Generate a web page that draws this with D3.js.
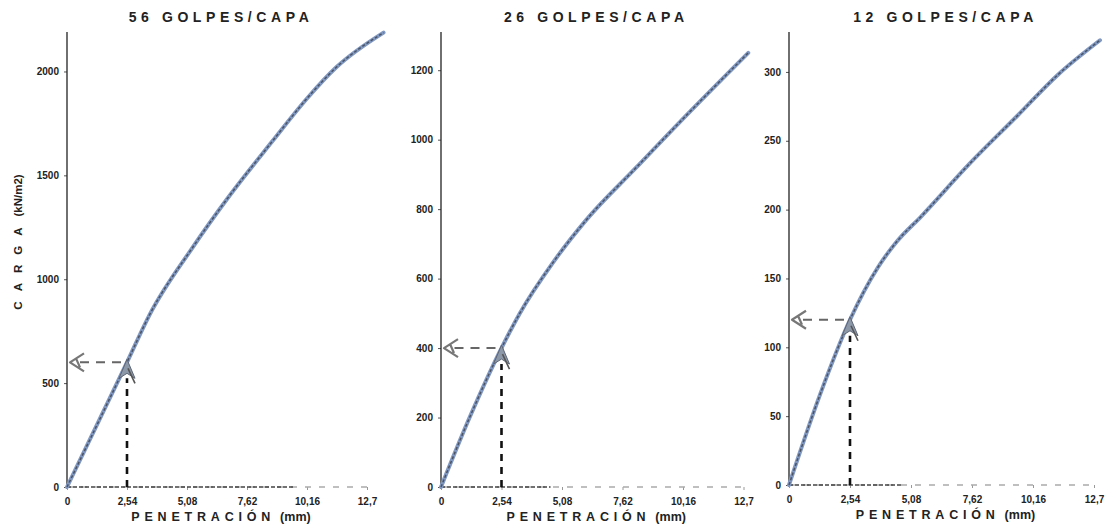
<!DOCTYPE html>
<html>
<head>
<meta charset="utf-8">
<script src="https://cdn.jsdelivr.net/npm/d3@7"></script>
<style>
  body { margin: 0; background: #fff; }
  svg { display: block; font-family: "Liberation Sans", Arial, sans-serif; }
</style>
</head>
<body>
<div id="chart"></div>
<script>
// Data

let titles = [`56 GOLPES/CAPA`, `26 GOLPES/CAPA`, `12 GOLPES/CAPA`]

let xTicks = [0, 2.54, 5.08, 7.62, 10.16, 12.7]
let xTickLabels = [`0`, `2,54`, `5,08`, `7,62`, `10,16`, `12,7`]

let pen56 = [0, 2.54, 3.5, 5.3, 6.8, 8.7, 10.16, 11.4, 13.4]
let carga56 = [0, 600, 830, 1150, 1390, 1665, 1870, 2020, 2187]

let pen26 = [0, 1.2, 2.54, 3.3, 4.7, 6.1, 8.2, 10.3, 12.9]
let carga26 = [0, 200, 400, 499, 646, 769, 920, 1070, 1250]

let pen12 = [0, 1.3, 2.54, 3.7, 4.5, 5.5, 7.5, 9.5, 11.2, 12.95]
let carga12 = [0, 66, 120, 158, 177, 195, 233, 268, 298, 323]

let yTicks56 = [0, 500, 1000, 1500, 2000]
let yTicks26 = [0, 200, 400, 600, 800, 1000, 1200]
let yTicks12 = [0, 50, 100, 150, 200, 250, 300]

let refPen = 2.54
let refCarga = [600, 400, 120]

// Layout per panel

let panels = [
  { title: titles[0], pen: pen56, carga: carga56, yTicks: yTicks56, yMax: 2190, ref: refCarga[0], x0: 67, y0: 487, step: 60, dark: 9.6 },
  { title: titles[1], pen: pen26, carga: carga26, yTicks: yTicks26, yMax: 1310, ref: refCarga[1], x0: 441, y0: 487, step: 60.5, dark: 4.6 },
  { title: titles[2], pen: pen12, carga: carga12, yTicks: yTicks12, yMax: 329, ref: refCarga[2], x0: 789, y0: 485, step: 61, dark: 4.7 },
]

let width = 1112
let height = 528
let plotTop = 32

let svg = d3.select(`#chart`).append(`svg`)
  .attr(`width`, width)
  .attr(`height`, height)

let ink = `#222`
let curveBlue = `#8198c0`
let curveDash = `#4a5366`
let font = `"Liberation Sans", Arial, sans-serif`

panels.forEach(p => {
  let x = d3.scaleLinear().domain([0, 12.7]).range([p.x0, p.x0 + p.step * 5])
  let y = d3.scaleLinear().domain([0, p.yMax]).range([p.y0, plotTop])

  let g = svg.append(`g`)

  // Title
  g.append(`text`)
    .attr(`x`, x(6.35) + 4)
    .attr(`y`, 22)
    .attr(`text-anchor`, `middle`)
    .attr(`font-size`, 14)
    .attr(`font-weight`, `bold`)
    .attr(`letter-spacing`, 4.6)
    .attr(`fill`, ink)
    .text(p.title)

  // Y axis
  let yAxis = d3.axisLeft(y).tickValues(p.yTicks).tickFormat(d3.format(`d`)).tickSize(3).tickPadding(5)
  let ya = g.append(`g`).attr(`transform`, `translate(${p.x0},0)`).call(yAxis)
  ya.select(`.domain`).remove()
  ya.selectAll(`text`).attr(`font-size`, 10).attr(`font-weight`, `bold`).attr(`fill`, ink).attr(`font-family`, font)
  ya.selectAll(`line`).attr(`stroke`, `#555`)
  g.append(`line`)
    .attr(`x1`, p.x0).attr(`x2`, p.x0)
    .attr(`y1`, p.y0 + 2).attr(`y2`, plotTop)
    .attr(`stroke`, ink).attr(`stroke-width`, 1.3)

  // X axis: labels only, baseline is a dotted line
  let xAxis = d3.axisBottom(x).tickValues(xTicks).tickFormat((d, i) => xTickLabels[i]).tickSize(3).tickPadding(8)
  let xa = g.append(`g`).attr(`transform`, `translate(0,${p.y0})`).call(xAxis)
  xa.select(`.domain`).remove()
  xa.selectAll(`text`).attr(`font-size`, 10).attr(`font-weight`, `bold`).attr(`fill`, ink).attr(`font-family`, font)
  xa.selectAll(`line`).attr(`stroke`, `#999`)

  g.append(`line`)
    .attr(`x1`, x(0)).attr(`x2`, x(12.7))
    .attr(`y1`, p.y0).attr(`y2`, p.y0)
    .attr(`stroke`, `#aaa`).attr(`stroke-width`, 1.3)
    .attr(`stroke-dasharray`, `6,8`)
  g.append(`line`)
    .attr(`x1`, x(0)).attr(`x2`, x(p.dark))
    .attr(`y1`, p.y0).attr(`y2`, p.y0)
    .attr(`stroke`, `#444`).attr(`stroke-width`, 1.6)
    .attr(`stroke-dasharray`, `4,2`)

  // X axis title
  let xt = g.append(`text`)
    .attr(`x`, x(6.35) + 4)
    .attr(`y`, p.y0 + 34)
    .attr(`text-anchor`, `middle`)
    .attr(`font-size`, 12.5)
    .attr(`font-weight`, `bold`)
    .attr(`fill`, ink)
  xt.append(`tspan`).attr(`letter-spacing`, 4.8).text(`PENETRACIÓN`)
  xt.append(`tspan`).attr(`dx`, 5).text(`(mm)`)

  // Curve
  let pts = p.pen.map((d, i) => [d, p.carga[i]])
  let line = d3.line().x(d => x(d[0])).y(d => y(d[1])).curve(d3.curveMonotoneX)
  g.append(`path`).datum(pts)
    .attr(`d`, line)
    .attr(`fill`, `none`)
    .attr(`stroke`, curveBlue)
    .attr(`stroke-width`, 4)
    .attr(`stroke-linecap`, `round`)
  g.append(`path`).datum(pts)
    .attr(`d`, line)
    .attr(`fill`, `none`)
    .attr(`stroke`, curveDash)
    .attr(`stroke-width`, 1.5)
    .attr(`stroke-dasharray`, `3,2`)

  // Reference guides at 2.54 mm
  let rx = x(refPen)
  let ry = y(p.ref)

  g.append(`line`)
    .attr(`x1`, rx).attr(`x2`, rx)
    .attr(`y1`, p.y0).attr(`y2`, ry + 16)
    .attr(`stroke`, `#111`).attr(`stroke-width`, 2.6)
    .attr(`stroke-dasharray`, `7,6`)

  g.append(`line`)
    .attr(`x1`, rx - 6).attr(`x2`, p.x0 + 8)
    .attr(`y1`, ry).attr(`y2`, ry)
    .attr(`stroke`, `#666`).attr(`stroke-width`, 2)
    .attr(`stroke-dasharray`, `9,7`)

  // Arrow at the y axis
  g.append(`path`)
    .attr(`d`, `M${p.x0 + 17},${ry - 9} L${p.x0 + 3},${ry} L${p.x0 + 17},${ry + 9} M${p.x0 + 9},${ry - 4} L${p.x0 + 13},${ry + 5}`)
    .attr(`fill`, `none`)
    .attr(`stroke`, `#777`)
    .attr(`stroke-width`, 2.2)
    .attr(`stroke-linejoin`, `round`)

  // Arrow head on the curve
  g.append(`path`)
    .attr(`d`, `M${rx},${ry - 3} L${rx - 8},${ry + 16} L${rx},${ry + 11} L${rx + 8},${ry + 16} Z`)
    .attr(`fill`, `#8c97a8`)
    .attr(`stroke`, `#5d6676`)
    .attr(`stroke-width`, 1)
  g.append(`path`)
    .attr(`d`, `M${rx + 1},${ry + 6} L${rx + 8},${ry + 21}`)
    .attr(`stroke`, `#555`)
    .attr(`stroke-width`, 1.6)
})

// Y axis title, first panel only
let yt = svg.append(`text`)
  .attr(`transform`, `translate(22,242) rotate(-90)`)
  .attr(`text-anchor`, `middle`)
  .attr(`font-size`, 11.5)
  .attr(`font-weight`, `bold`)
  .attr(`fill`, ink)
yt.append(`tspan`).attr(`letter-spacing`, 10).text(`CARGA`)
yt.append(`tspan`).attr(`dx`, 1).text(`(kN/m2)`)
</script>
</body>
</html>
